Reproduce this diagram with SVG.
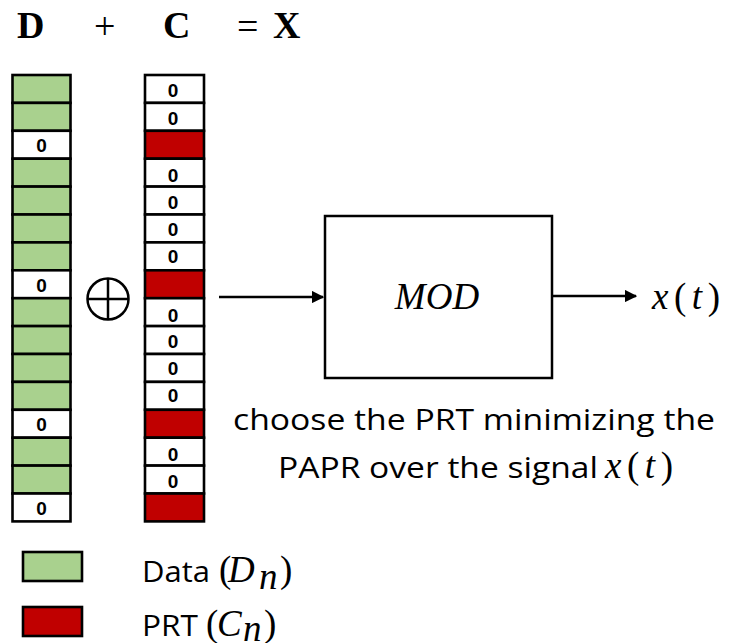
<svg xmlns="http://www.w3.org/2000/svg" width="740" height="643" viewBox="0 0 740 643">
<defs>
<style>
.cell{stroke:#000;stroke-width:2.6}
.g{fill:#A9D18E}
.r{fill:#C00000}
.w{fill:#fff}
.z{font-family:"Liberation Sans",Arial,sans-serif;font-weight:bold;font-size:19px;text-anchor:middle;fill:#000}
.hdr{font-family:"Liberation Serif","Times New Roman",serif;font-weight:bold;font-size:38px;fill:#000}
.op{font-family:"Liberation Serif","Times New Roman",serif;font-size:38px;fill:#000}
.math{font-family:"Liberation Serif","Times New Roman",serif;font-size:37px;fill:#000}
.it{font-style:italic}
.lbl{font-family:"Open Sans","Liberation Sans",sans-serif;font-size:30px;fill:#000}
.line{stroke:#000;stroke-width:2.5;fill:none}
</style>
<marker id="ah" viewBox="0 0 10 10" refX="9" refY="5" markerWidth="5" markerHeight="5" orient="auto" markerUnits="strokeWidth">
<path d="M0,0 L10,5 L0,10 z" fill="#000"/>
</marker>
</defs>

<g id="header">
<text class="hdr" x="17" y="38">D</text>
<text class="op" x="94" y="39">+</text>
<text class="hdr" x="163" y="38">C</text>
<text class="op" x="237" y="39">=</text>
<text class="hdr" x="273" y="38">X</text>
</g>

<g id="D-column">
<rect class="cell g" x="12.5" y="75" width="58" height="27.9"/>
<rect class="cell g" x="12.5" y="102.9" width="58" height="27.9"/>
<rect class="cell w" x="12.5" y="130.8" width="58" height="27.9"/><text class="z" x="41.5" y="152">0</text>
<rect class="cell g" x="12.5" y="158.7" width="58" height="27.9"/>
<rect class="cell g" x="12.5" y="186.6" width="58" height="27.9"/>
<rect class="cell g" x="12.5" y="214.5" width="58" height="27.9"/>
<rect class="cell g" x="12.5" y="242.4" width="58" height="27.9"/>
<rect class="cell w" x="12.5" y="270.3" width="58" height="27.9"/><text class="z" x="41.5" y="291.5">0</text>
<rect class="cell g" x="12.5" y="298.2" width="58" height="27.9"/>
<rect class="cell g" x="12.5" y="326.1" width="58" height="27.9"/>
<rect class="cell g" x="12.5" y="354" width="58" height="27.9"/>
<rect class="cell g" x="12.5" y="381.9" width="58" height="27.9"/>
<rect class="cell w" x="12.5" y="409.8" width="58" height="27.9"/><text class="z" x="41.5" y="431">0</text>
<rect class="cell g" x="12.5" y="437.7" width="58" height="27.9"/>
<rect class="cell g" x="12.5" y="465.6" width="58" height="27.9"/>
<rect class="cell w" x="12.5" y="493.5" width="58" height="27.9"/><text class="z" x="41.5" y="515">0</text>
</g>

<g id="C-column">
<rect class="cell w" x="145" y="75" width="59" height="27.9"/><text class="z" x="173" y="97">0</text>
<rect class="cell w" x="145" y="102.9" width="59" height="27.9"/><text class="z" x="173" y="124.5">0</text>
<rect class="cell r" x="145" y="130.8" width="59" height="27.9"/>
<rect class="cell w" x="145" y="158.7" width="59" height="27.9"/><text class="z" x="173" y="182">0</text>
<rect class="cell w" x="145" y="186.6" width="59" height="27.9"/><text class="z" x="173" y="209">0</text>
<rect class="cell w" x="145" y="214.5" width="59" height="27.9"/><text class="z" x="173" y="236">0</text>
<rect class="cell w" x="145" y="242.4" width="59" height="27.9"/><text class="z" x="173" y="263">0</text>
<rect class="cell r" x="145" y="270.3" width="59" height="27.9"/>
<rect class="cell w" x="145" y="298.2" width="59" height="27.9"/><text class="z" x="173" y="321.5">0</text>
<rect class="cell w" x="145" y="326.1" width="59" height="27.9"/><text class="z" x="173" y="348">0</text>
<rect class="cell w" x="145" y="354" width="59" height="27.9"/><text class="z" x="173" y="375">0</text>
<rect class="cell w" x="145" y="381.9" width="59" height="27.9"/><text class="z" x="173" y="402">0</text>
<rect class="cell r" x="145" y="409.8" width="59" height="27.9"/>
<rect class="cell w" x="145" y="437.7" width="59" height="27.9"/><text class="z" x="173" y="461">0</text>
<rect class="cell w" x="145" y="465.6" width="59" height="27.9"/><text class="z" x="173" y="487.5">0</text>
<rect class="cell r" x="145" y="493.5" width="59" height="27.9"/>
</g>

<g id="xor">
<circle class="line" cx="108" cy="299" r="20.5"/>
<line class="line" x1="87.5" y1="299" x2="128.5" y2="299"/>
<line class="line" x1="108" y1="278.5" x2="108" y2="319.5"/>
</g>

<g id="mod">
<rect x="325" y="216" width="227" height="162" fill="#fff" stroke="#000" stroke-width="2.5"/>
<text class="math it" x="437" y="309" text-anchor="middle">MOD</text>
</g>

<g id="output-label">
<text class="math" x="652" y="309" textLength="68" lengthAdjust="spacing"><tspan class="it">x</tspan>(<tspan class="it">t</tspan>)</text>
</g>

<g id="connectors">
<line class="line" x1="219" y1="297" x2="323" y2="297" marker-end="url(#ah)"/>
<line class="line" x1="552" y1="296" x2="636" y2="296" marker-end="url(#ah)"/>
</g>

<g id="caption">
<text class="lbl" x="233" y="430" textLength="482" lengthAdjust="spacingAndGlyphs">choose the PRT minimizing the</text>
<text class="lbl" x="278" y="478" textLength="320" lengthAdjust="spacingAndGlyphs">PAPR over the signal</text>
<text class="math" x="605" y="478" textLength="68" lengthAdjust="spacing"><tspan class="it">x</tspan>(<tspan class="it">t</tspan>)</text>
</g>

<g id="legend">
<rect class="cell g" x="23" y="552" width="59" height="29"/>
<rect class="cell r" x="23" y="607" width="59" height="29"/>
<text class="lbl" x="142" y="582" font-size="32" textLength="68" lengthAdjust="spacingAndGlyphs">Data</text>
<text class="math" x="219" y="582" font-size="36">(</text>
<text class="math it" x="228" y="582" font-size="36">D</text>
<text class="math it" x="259" y="589" font-size="26">n</text>
<text class="math" x="280" y="582" font-size="36">)</text>
<text class="lbl" x="142" y="636" font-size="32" textLength="56" lengthAdjust="spacingAndGlyphs">PRT</text>
<text class="math" x="206" y="636" font-size="36">(</text>
<text class="math it" x="217" y="636" font-size="36">C</text>
<text class="math it" x="243" y="641" font-size="26">n</text>
<text class="math" x="264" y="636" font-size="36">)</text>
</g>
</svg>
